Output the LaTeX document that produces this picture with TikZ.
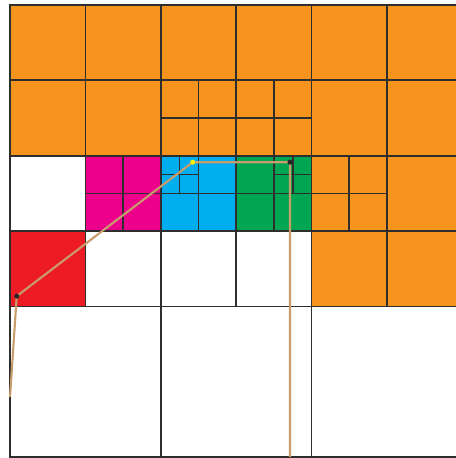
\documentclass[tikz,border=0pt]{standalone}
\usepackage{tikz}
\definecolor{qorange}{RGB}{247,148,29}
\definecolor{qmagenta}{RGB}{236,0,140}
\definecolor{qblue}{RGB}{0,174,239}
\definecolor{qgreen}{RGB}{0,166,81}
\definecolor{qred}{RGB}{237,28,36}
\definecolor{qyellow}{RGB}{255,242,0}
\definecolor{qtan}{RGB}{201,156,108}

\begin{document}
\begin{tikzpicture}[scale=1,
  cell/.style={draw=black!82, line width=0.65pt},
  route/.style={draw=qtan, line width=0.8pt},
  dot/.style={circle, inner sep=0pt, minimum size=1.9pt}]
\useasboundingbox (-0.133,-0.01) rectangle (5.915,6.066);
\clip (-0.133,-0.01) rectangle (5.915,6.066);
% coloured cells
\fill[qorange] (0,4) rectangle (6,6);
\fill[qorange] (4,2) rectangle (6,4);
\fill[qmagenta] (1,3) rectangle (2,4);
\fill[qblue] (2,3) rectangle (3,4);
\fill[qgreen] (3,3) rectangle (4,4);
\fill[qred] (0,2) rectangle (1,3);
% unit cells
\foreach \x in {0,...,5}
  \foreach \y in {2,...,5}
    \draw[cell] (\x,\y) rectangle +(1,1);
\draw[cell] (0,0) rectangle (2,2);
\draw[cell] (2,0) rectangle (4,2);
\draw[cell] (4,0) rectangle (6,2);
% halves
\foreach \x/\y in {2/4,3/4,1/3,2/3,3/3,4/3}
  \draw[cell] (\x+0.5,\y) -- ++(0,1) (\x,\y+0.5) -- ++(1,0);
% quarters
\foreach \x/\y in {2/3.5,3.5/3.5}
  \draw[cell] (\x+0.25,\y) -- ++(0,0.5) (\x,\y+0.25) -- ++(0.5,0);
% route
\coordinate (start) at (0,0.8);
\coordinate (p1) at (0.089,2.137);
\coordinate (p2) at (2.423,3.914);
\coordinate (p3) at (3.714,3.914);
\coordinate (stop) at (3.714,0);
\draw[route] (start) -- (p1) -- (p2) -- (p3) -- (stop);
\node[dot, fill=black!85] (d1) at (p1) {};
\node[dot, fill=qyellow] (d2) at (p2) {};
\node[dot, fill=black!85] (d3) at (p3) {};
\end{tikzpicture}
\end{document}
